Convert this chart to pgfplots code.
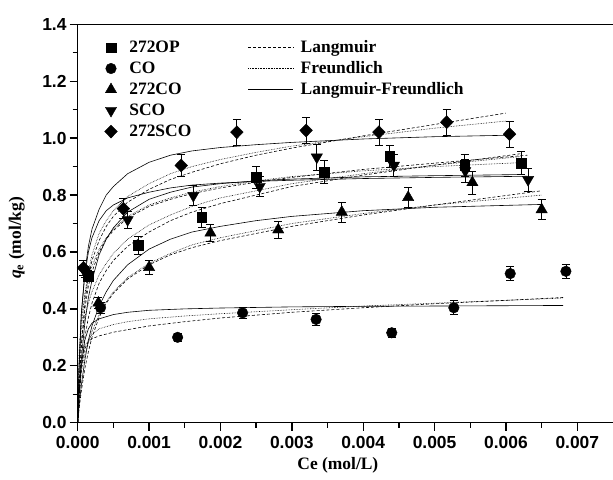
\documentclass[border=0pt]{standalone}
\usepackage{fontspec}
\setmainfont{Liberation Serif}
\setsansfont{Liberation Sans}
\usepackage{pgfplots}
\pgfplotsset{compat=1.18}
\begin{document}
\begin{tikzpicture}
\pgfplotsset{
  fitL/.style={densely dashed, line width=0.6pt, black, forget plot},
  fitF/.style={densely dotted, line width=0.6pt, black, forget plot},
  fitLF/.style={solid, line width=0.6pt, black, forget plot},
  dat/.style={only marks, black, error bars/y dir=both, error bars/y explicit,
     error bars/error bar style={line width=0.8pt, black, solid},
     error bars/error mark options={rotate=90, mark size=4bp, line width=0.8pt, black}},
}
\begin{axis}[
  name=main,
  scale only axis, width=535.3bp, height=398.4bp,
  xmin=0, xmax=0.0075, ymin=0, ymax=1.4,
  axis x line*=bottom, axis y line*=left,
  axis line style={line width=1.4pt, -},
  scaled x ticks=false, scaled y ticks=false,
  xtick={0,0.001,0.002,0.003,0.004,0.005,0.006,0.007},
  xticklabels={0.000,0.001,0.002,0.003,0.004,0.005,0.006,0.007},
  ytick={0,0.2,0.4,0.6,0.8,1.0,1.2,1.4},
  yticklabels={0.0,0.2,0.4,0.6,0.8,1.0,1.2,1.4},
  minor x tick num=1, minor y tick num=1,
  tick align=outside,
  major tick length=8bp, minor tick length=5bp,
  every tick/.style={line width=1.4pt, black},
  /pgf/number format/assume math mode=true,
  ticklabel style={font=\sffamily\bfseries\fontsize{17.5}{20}\selectfont},
  xticklabel style={yshift=-2bp},
  yticklabel style={inner xsep=3bp},
  xlabel={\bfseries\fontsize{17.5}{20}\selectfont Ce (mol/L)},
  ylabel={\bfseries\fontsize{17.5}{20}\selectfont \textit{q}\textsubscript{e} (mol/kg)},
  xlabel style={at={(axis description cs:0.486,-0.106)}, anchor=center},
  ylabel style={at={(axis description cs:-0.114,0.464)}, anchor=center},
  legend style={draw=none, fill=none, inner sep=0pt, at={(axis description cs:0.050,0.961)}, anchor=north west,
    font=\bfseries\fontsize{17.5}{20}\selectfont,
    nodes={inner sep=0pt, text height=12bp, text depth=3bp},
    row sep=6bp,
    /tikz/every odd column/.append style={column sep=12bp}},
  legend cell align=left,
  clip=false,
]
% ---- fitted curves: 272SCO
\addplot[fitLF] coordinates {(0,0)(0.00002,0.20)(0.00005,0.38)(0.0001,0.53)(0.00015,0.62)(0.0002,0.68)(0.0003,0.75)(0.0004,0.80)(0.0005,0.83)(0.0007,0.875)(0.001,0.915)(0.0013,0.94)(0.0016,0.955)(0.002,0.967)(0.0025,0.977)(0.003,0.985)(0.004,0.997)(0.005,1.005)(0.006,1.01)};
\addplot[fitL] coordinates {(0,0)(0.00002,0.12)(0.00005,0.27)(0.0001,0.42)(0.00015,0.51)(0.0002,0.57)(0.0003,0.64)(0.0004,0.69)(0.0005,0.725)(0.0007,0.775)(0.001,0.82)(0.0013,0.855)(0.0016,0.88)(0.002,0.91)(0.0025,0.94)(0.003,0.965)(0.004,1.008)(0.005,1.048)(0.006,1.088)};
\addplot[fitF] coordinates {(0,0)(0.00002,0.2)(0.00005,0.33)(0.0001,0.45)(0.00015,0.53)(0.0002,0.59)(0.0003,0.665)(0.0004,0.71)(0.0005,0.745)(0.0007,0.795)(0.001,0.84)(0.0013,0.875)(0.0016,0.9)(0.002,0.925)(0.0025,0.95)(0.003,0.972)(0.004,1.005)(0.005,1.035)(0.006,1.06)};
% ---- SCO
\addplot[fitLF] coordinates {(0,0)(0.00002,0.2)(0.00005,0.38)(0.0001,0.52)(0.00015,0.6)(0.0002,0.65)(0.0003,0.71)(0.0004,0.745)(0.0005,0.765)(0.0007,0.79)(0.001,0.81)(0.0013,0.825)(0.0016,0.835)(0.002,0.842)(0.0025,0.848)(0.003,0.852)(0.004,0.858)(0.005,0.862)(0.0063,0.866)};
\addplot[fitL] coordinates {(0,0)(0.00002,0.12)(0.00005,0.26)(0.0001,0.4)(0.00015,0.48)(0.0002,0.53)(0.0003,0.6)(0.0004,0.645)(0.0005,0.675)(0.0007,0.72)(0.001,0.76)(0.0013,0.785)(0.0016,0.805)(0.002,0.825)(0.0025,0.845)(0.003,0.862)(0.004,0.89)(0.005,0.912)(0.0063,0.94)};
\addplot[fitF] coordinates {(0,0)(0.00002,0.25)(0.00005,0.36)(0.0001,0.45)(0.00015,0.51)(0.0002,0.55)(0.0003,0.61)(0.0004,0.65)(0.0005,0.68)(0.0007,0.725)(0.001,0.765)(0.0013,0.79)(0.0016,0.81)(0.002,0.83)(0.0025,0.85)(0.003,0.865)(0.004,0.885)(0.005,0.9)(0.0063,0.915)};
% ---- 272OP
\addplot[fitLF] coordinates {(0,0)(0.00002,0.1)(0.00005,0.22)(0.0001,0.35)(0.00015,0.44)(0.0002,0.5)(0.0003,0.59)(0.0004,0.645)(0.0005,0.685)(0.0007,0.74)(0.001,0.785)(0.0013,0.81)(0.0016,0.828)(0.002,0.84)(0.0025,0.85)(0.003,0.856)(0.004,0.864)(0.005,0.868)(0.0062,0.872)};
\addplot[fitL] coordinates {(0,0)(0.00002,0.08)(0.00005,0.18)(0.0001,0.3)(0.00015,0.37)(0.0002,0.42)(0.0003,0.49)(0.0004,0.535)(0.0005,0.57)(0.0007,0.62)(0.001,0.67)(0.0013,0.71)(0.0016,0.74)(0.002,0.77)(0.0025,0.8)(0.003,0.83)(0.004,0.87)(0.005,0.905)(0.0062,0.945)};
\addplot[fitF] coordinates {(0,0)(0.00002,0.2)(0.00005,0.29)(0.0001,0.37)(0.00015,0.42)(0.0002,0.46)(0.0003,0.52)(0.0004,0.56)(0.0005,0.595)(0.0007,0.645)(0.001,0.695)(0.0013,0.73)(0.0016,0.76)(0.002,0.79)(0.0025,0.815)(0.003,0.84)(0.004,0.875)(0.005,0.905)(0.0062,0.935)};
% ---- 272CO
\addplot[fitLF] coordinates {(0,0)(0.00002,0.06)(0.00005,0.13)(0.0001,0.22)(0.00015,0.29)(0.0002,0.34)(0.0003,0.41)(0.0004,0.46)(0.0005,0.5)(0.0007,0.555)(0.001,0.61)(0.0013,0.645)(0.0016,0.67)(0.002,0.69)(0.0025,0.71)(0.003,0.725)(0.004,0.745)(0.005,0.757)(0.0065,0.767)};
\addplot[fitL] coordinates {(0,0)(0.00002,0.05)(0.00005,0.11)(0.0001,0.19)(0.00015,0.25)(0.0002,0.3)(0.0003,0.37)(0.0004,0.42)(0.0005,0.455)(0.0007,0.505)(0.001,0.555)(0.0013,0.59)(0.0016,0.615)(0.002,0.64)(0.0025,0.665)(0.003,0.69)(0.004,0.73)(0.005,0.765)(0.0065,0.815)};
\addplot[fitF] coordinates {(0,0)(0.00002,0.12)(0.00005,0.18)(0.0001,0.24)(0.00015,0.28)(0.0002,0.32)(0.0003,0.38)(0.0004,0.425)(0.0005,0.46)(0.0007,0.51)(0.001,0.56)(0.0013,0.595)(0.0016,0.625)(0.002,0.65)(0.0025,0.675)(0.003,0.7)(0.004,0.735)(0.005,0.765)(0.0065,0.8)};
% ---- CO
\addplot[fitLF] coordinates {(0,0)(0.00002,0.1)(0.00005,0.2)(0.0001,0.29)(0.00015,0.33)(0.0002,0.35)(0.0003,0.365)(0.0005,0.38)(0.0007,0.388)(0.001,0.395)(0.0015,0.4)(0.002,0.403)(0.003,0.407)(0.004,0.409)(0.005,0.41)(0.0068,0.412)};
\addplot[fitL] coordinates {(0,0)(0.00002,0.1)(0.00005,0.2)(0.0001,0.26)(0.00015,0.285)(0.0002,0.295)(0.0003,0.305)(0.0005,0.318)(0.0007,0.327)(0.001,0.34)(0.0015,0.355)(0.002,0.368)(0.003,0.388)(0.004,0.404)(0.005,0.418)(0.006,0.43)(0.0068,0.44)};
\addplot[fitF] coordinates {(0,0)(0.00002,0.15)(0.00005,0.22)(0.0001,0.27)(0.0002,0.31)(0.0003,0.33)(0.0005,0.345)(0.0007,0.355)(0.001,0.365)(0.0015,0.375)(0.002,0.383)(0.003,0.397)(0.004,0.41)(0.005,0.42)(0.006,0.43)(0.0068,0.438)};
% ---- data
\addplot[dat, mark=square*, mark size=4.8bp] coordinates {
 (0.00015,0.515) +- (0,0.02)
 (0.00085,0.623) +- (0,0.03)
 (0.00174,0.723) +- (0,0.035)
 (0.0025,0.862) +- (0,0.04)
 (0.00345,0.880) +- (0,0.04)
 (0.00437,0.936) +- (0,0.04)
 (0.00542,0.904) +- (0,0.04)
 (0.00621,0.912) +- (0,0.04)};
\addlegendentry{272OP}
\addplot[dat, mark=*, mark size=5.3bp] coordinates {
 (0.00032,0.404) +- (0,0.02)
 (0.0014,0.300) +- (0,0.015)
 (0.00231,0.386) +- (0,0.02)
 (0.00334,0.363) +- (0,0.02)
 (0.0044,0.316) +- (0,0.015)
 (0.00527,0.404) +- (0,0.025)
 (0.00606,0.524) +- (0,0.025)
 (0.00684,0.532) +- (0,0.025)};
\addlegendentry{CO}
\addplot[dat, mark=triangle*, mark size=6.5bp] coordinates {
 (0.00029,0.421) +- (0,0.02)
 (0.001,0.546) +- (0,0.025)
 (0.00186,0.667) +- (0,0.03)
 (0.00281,0.678) +- (0,0.03)
 (0.0037,0.740) +- (0,0.035)
 (0.00463,0.792) +- (0,0.035)
 (0.00553,0.844) +- (0,0.04)
 (0.0065,0.749) +- (0,0.035)};
\addlegendentry{272CO}
\addplot[dat, mark=triangle*, mark size=6.5bp, mark options={rotate=180}] coordinates {
 (0.0001,0.53) +- (0,0.02)
 (0.0007,0.713) +- (0,0.03)
 (0.00162,0.798) +- (0,0.035)
 (0.00255,0.830) +- (0,0.035)
 (0.00335,0.933) +- (0,0.045)
 (0.00443,0.904) +- (0,0.04)
 (0.00543,0.885) +- (0,0.04)
 (0.00631,0.854) +- (0,0.04)};
\addlegendentry{SCO}
\addplot[dat, mark=diamond*, mark size=6.5bp, mark options={xscale=1.3}] coordinates {
 (0.00008,0.544) +- (0,0.025)
 (0.00064,0.752) +- (0,0.035)
 (0.00145,0.904) +- (0,0.04)
 (0.00223,1.021) +- (0,0.045)
 (0.0032,1.027) +- (0,0.045)
 (0.00422,1.021) +- (0,0.045)
 (0.00517,1.056) +- (0,0.045)
 (0.00605,1.014) +- (0,0.045)};
\addlegendentry{272SCO}
\draw[line width=1.4pt] (rel axis cs:0,1) -- (rel axis cs:1,1);
\end{axis}
\begin{axis}[
  scale only axis, width=535.3bp, height=398.4bp,
  xmin=0, xmax=0.0075, ymin=0, ymax=1.4,
  hide axis,
  legend style={draw=none, fill=none, inner sep=0pt, at={(axis description cs:0.318,0.961)}, anchor=north west,
    font=\bfseries\fontsize{17.5}{20}\selectfont,
    nodes={inner sep=0pt, text height=12bp, text depth=3bp},
    row sep=6bp,
    /tikz/every odd column/.append style={column sep=7bp}},
  legend cell align=left,
  legend image code/.code={\draw[#1] (0bp,0bp) -- (45bp,0bp);},
]
\addlegendimage{densely dashed, line width=0.6pt, black}
\addlegendentry{Langmuir}
\addlegendimage{densely dotted, line width=0.6pt, black}
\addlegendentry{Freundlich}
\addlegendimage{solid, line width=0.6pt, black}
\addlegendentry{Langmuir-Freundlich}
\end{axis}
\pgfresetboundingbox
\useasboundingbox ([xshift=-77.7bp,yshift=-56.3bp]main.south west) rectangle ([yshift=24.3bp]main.north east);
\end{tikzpicture}
\end{document}
